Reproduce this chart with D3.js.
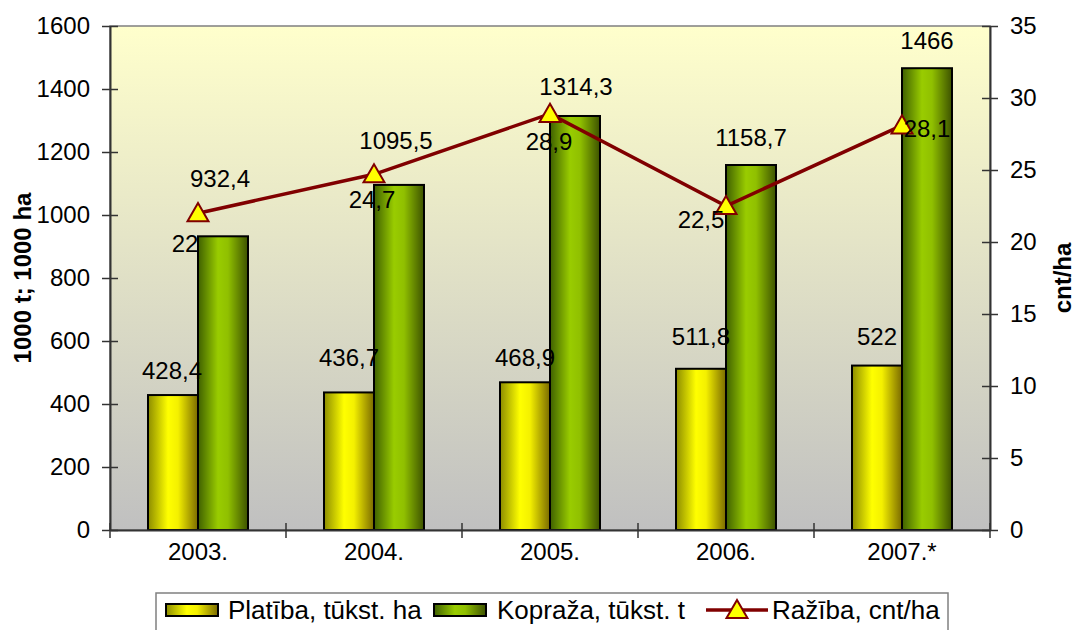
<!DOCTYPE html>
<html>
<head>
<meta charset="utf-8">
<script src="https://cdn.jsdelivr.net/npm/d3@7"></script>
<style>
  body { margin: 0; background: #fff; }
  svg { font-family: "Liberation Sans", Arial, sans-serif; }
</style>
</head>
<body>
<svg width="1077" height="630"></svg>
<script>
const years = ["2003.", "2004.", "2005.", "2006.", "2007.*"];
const platiba = [428.4, 436.7, 468.9, 511.8, 522];
const kopraza = [932.4, 1095.5, 1314.3, 1158.7, 1466];
const raziba = [22, 24.7, 28.9, 22.5, 28.1];
const leftTicks = [0, 200, 400, 600, 800, 1000, 1200, 1400, 1600];
const rightTicks = [0, 5, 10, 15, 20, 25, 30, 35];

const fmt = v => String(v).replace(".", ",");

let svg = d3.select("svg");
let margin = {top: 26, bottom: 100, right: 87, left: 110};
const width = 1077;
const height = 630;

let defs = svg.append("defs");
let bg = defs.append("linearGradient").attr("id", "bg").attr("x1", 0).attr("y1", 0).attr("x2", 0).attr("y2", 1);
bg.append("stop").attr("offset", "0%").attr("stop-color", "#ffffcc");
bg.append("stop").attr("offset", "100%").attr("stop-color", "#c0c0c0");

function barGrad(id, stops) {
  let g = defs.append("linearGradient").attr("id", id).attr("x1", 0).attr("y1", 0).attr("x2", 1).attr("y2", 0);
  stops.forEach(s => g.append("stop").attr("offset", s[0]).attr("stop-color", s[1]));
}
barGrad("gy", [["0%", "#8c8c00"], ["40%", "#ffff00"], ["60%", "#f4f000"], ["100%", "#7a6a00"]]);
barGrad("gg", [["0%", "#3f6000"], ["40%", "#99cc00"], ["60%", "#90c000"], ["100%", "#3d5200"]]);

// scales
let xScale = d3.scaleBand().domain(years).range([margin.left, width - margin.right]);
let xInner = d3.scaleBand().domain(["p", "k"]).range([0, xScale.bandwidth()]).paddingOuter(0.76);
let yLeft = d3.scaleLinear().domain([0, 1600]).range([height - margin.bottom, margin.top]);
let yRight = d3.scaleLinear().domain([0, 35]).range([height - margin.bottom, margin.top]);

// plot area
svg.append("rect")
  .attr("x", margin.left).attr("y", margin.top)
  .attr("width", width - margin.left - margin.right)
  .attr("height", height - margin.top - margin.bottom)
  .attr("fill", "url(#bg)")
  .attr("stroke", "#808080").attr("stroke-width", 1.5);

// bars
let groups = svg.selectAll(".cat").data(years).enter().append("g")
  .attr("transform", d => `translate(${xScale(d)},0)`);
groups.append("rect")
  .attr("x", xInner("p")).attr("width", xInner.bandwidth())
  .attr("y", (d, i) => yLeft(platiba[i]))
  .attr("height", (d, i) => yLeft(0) - yLeft(platiba[i]))
  .attr("fill", "url(#gy)").attr("stroke", "#000").attr("stroke-width", 2);
groups.append("rect")
  .attr("x", xInner("k")).attr("width", xInner.bandwidth())
  .attr("y", (d, i) => yLeft(kopraza[i]))
  .attr("height", (d, i) => yLeft(0) - yLeft(kopraza[i]))
  .attr("fill", "url(#gg)").attr("stroke", "#000").attr("stroke-width", 2);

// axes
let axisStyle = g => {
  g.selectAll("path.domain").attr("stroke", "#333").attr("stroke-width", 2);
  g.selectAll(".tick line").attr("stroke", "#333").attr("stroke-width", 1.5);
  g.selectAll("text").attr("font-size", 24).attr("fill", "#000").attr("font-family", "Liberation Sans, Arial, sans-serif");
};
let yAxisL = d3.axisLeft(yLeft).tickValues(leftTicks).tickFormat(d3.format("d")).tickSize(8).tickSizeOuter(0).tickPadding(12);
svg.append("g").attr("transform", `translate(${margin.left},0)`).call(yAxisL).call(axisStyle)
  .selectAll(".tick line").attr("x2", 8).attr("x1", -8);
let yAxisR = d3.axisRight(yRight).tickValues(rightTicks).tickSize(8).tickSizeOuter(0).tickPadding(12);
svg.append("g").attr("transform", `translate(${width - margin.right},0)`).call(yAxisR).call(axisStyle)
  .selectAll(".tick line").attr("x1", -8).attr("x2", 8);
let xAxis = d3.axisBottom(xScale).tickSize(0).tickSizeOuter(0).tickPadding(13);
svg.append("g").attr("transform", `translate(0,${height - margin.bottom})`).call(xAxis).call(axisStyle);
// category separators
svg.append("g").selectAll("line").data(years.concat(["end"])).enter().append("line")
  .attr("x1", (d, i) => margin.left + i * xScale.step()).attr("x2", (d, i) => margin.left + i * xScale.step())
  .attr("y1", yLeft(0) - 7).attr("y2", yLeft(0) + 8)
  .attr("stroke", "#333").attr("stroke-width", 1.5);

// line series
let cx = (d, i) => xScale(years[i]) + xScale.bandwidth() / 2;
let line = d3.line().x(cx).y(d => yRight(d));
svg.append("path").datum(raziba)
  .attr("d", line).attr("fill", "none").attr("stroke", "#800000").attr("stroke-width", 3.5);
let tri = d3.symbol().type(d3.symbolTriangle).size(190);
svg.selectAll(".mk").data(raziba).enter().append("path")
  .attr("d", tri)
  .attr("transform", (d, i) => `translate(${cx(d, i)},${yRight(d) + 2})`)
  .attr("fill", "#ffff00").attr("stroke", "#800000").attr("stroke-width", 2);

// data labels (manually nudged as in the original)
const nudgeP = [[-1, -25], [0, -35], [0, -25], [0, -32], [0, -29]];
const nudgeK = [[-3, -58], [-3, -44], [1, -29], [0, -28], [0, -28]];
const nudgeR = [[-13, 30], [-2, 25], [-1, 28], [-25, 13], [25, 3]];
let lbl = (sel) => sel.attr("font-size", 24).attr("text-anchor", "middle").attr("dominant-baseline", "central").attr("fill", "#000");
svg.selectAll(".lp").data(platiba).enter().append("text").call(lbl)
  .attr("x", (d, i) => xScale(years[i]) + xInner("p") + xInner.bandwidth() / 2 + nudgeP[i][0])
  .attr("y", (d, i) => yLeft(d) + nudgeP[i][1]).text(fmt);
svg.selectAll(".lk").data(kopraza).enter().append("text").call(lbl)
  .attr("x", (d, i) => xScale(years[i]) + xInner("k") + xInner.bandwidth() / 2 + nudgeK[i][0])
  .attr("y", (d, i) => yLeft(d) + nudgeK[i][1]).text(fmt);
svg.selectAll(".lr").data(raziba).enter().append("text").call(lbl)
  .attr("x", (d, i) => cx(d, i) + nudgeR[i][0])
  .attr("y", (d, i) => yRight(d) + nudgeR[i][1]).text(fmt);

// axis titles
svg.append("text").attr("transform", `translate(22,${(margin.top + height - margin.bottom) / 2}) rotate(-90)`)
  .attr("text-anchor", "middle").attr("dominant-baseline", "central")
  .attr("font-size", 24).attr("font-weight", "bold").text("1000 t; 1000 ha");
svg.append("text").attr("transform", `translate(1062,${(margin.top + height - margin.bottom) / 2}) rotate(-90)`)
  .attr("text-anchor", "middle").attr("dominant-baseline", "central")
  .attr("font-size", 24).attr("font-weight", "bold").text("cnt/ha");

// legend
let lg = svg.append("g");
lg.append("rect").attr("x", 156).attr("y", 593).attr("width", 792).attr("height", 50)
  .attr("fill", "#fff").attr("stroke", "#808080").attr("stroke-width", 1.5);
let ly = 610;
lg.append("rect").attr("x", 166).attr("y", ly - 6).attr("width", 52).attr("height", 12)
  .attr("fill", "url(#gy)").attr("stroke", "#000").attr("stroke-width", 2);
lg.append("text").attr("x", 228).attr("y", ly).attr("dominant-baseline", "central").attr("font-size", 26).text("Platība, tūkst. ha");
lg.append("rect").attr("x", 434).attr("y", ly - 6).attr("width", 52).attr("height", 12)
  .attr("fill", "url(#gg)").attr("stroke", "#000").attr("stroke-width", 2);
lg.append("text").attr("x", 497).attr("y", ly).attr("dominant-baseline", "central").attr("font-size", 26).text("Kopraža, tūkst. t");
lg.append("line").attr("x1", 706).attr("x2", 768).attr("y1", ly).attr("y2", ly).attr("stroke", "#800000").attr("stroke-width", 3.5);
lg.append("path").attr("d", tri).attr("transform", `translate(737,${ly + 2})`)
  .attr("fill", "#ffff00").attr("stroke", "#800000").attr("stroke-width", 2);
lg.append("text").attr("x", 772).attr("y", ly).attr("dominant-baseline", "central").attr("font-size", 26).text("Ražība, cnt/ha");
</script>
</body>
</html>
